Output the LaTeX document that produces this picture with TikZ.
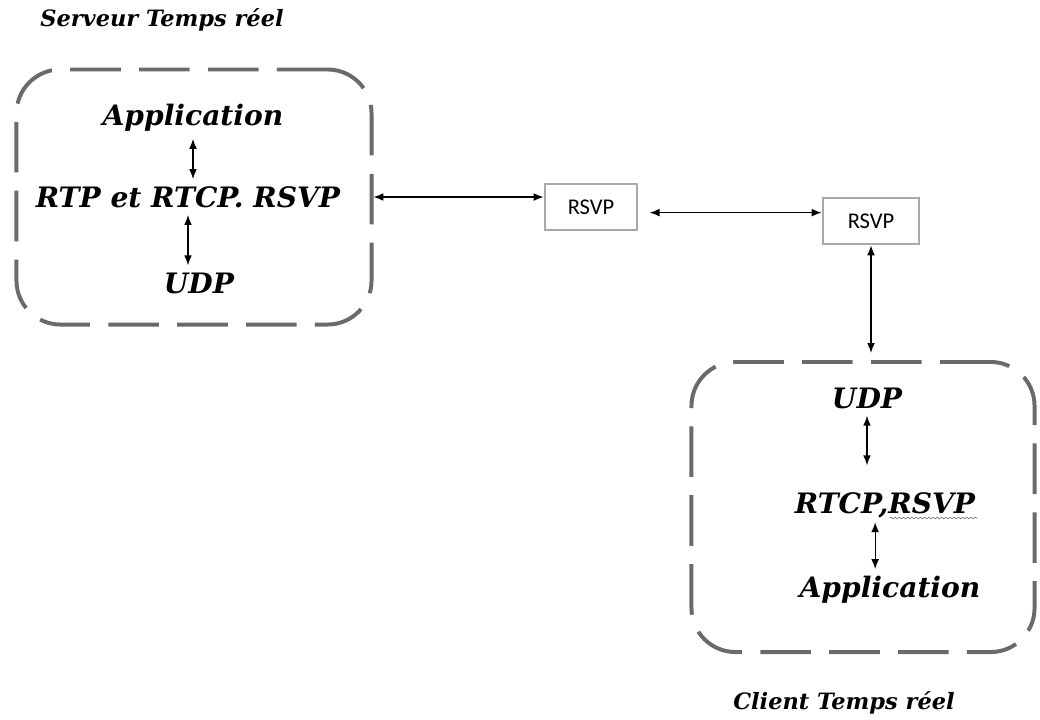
\documentclass[tikz,border=0pt]{standalone}
\usepackage{fontspec}
\newfontfamily\boitefont{Carlito}
\newfontfamily\couchefont{DejaVu Serif}
\usetikzlibrary{arrows.meta,decorations.pathmorphing}
\definecolor{griscadre}{HTML}{6A6A6A}
\definecolor{grisboite}{HTML}{A8A8A8}
\tikzset{
  couche/.style={font=\fontsize{20}{24}\selectfont\couchefont\bfseries\itshape, inner sep=5pt},
  titre/.style={font=\fontsize{16}{19}\selectfont\couchefont\bfseries\itshape},
  cadre/.style={draw=griscadre, line width=2.8pt, rounded corners=1.1cm,
    dash pattern=on 36pt off 13pt, minimum width=#1},
  boite/.style={draw=grisboite, line width=2pt, minimum width=2.3cm, minimum height=1.15cm,
    font=\fontsize{16}{19}\selectfont\boitefont},
  fleche/.style={{Latex[length=7pt,width=5.5pt]}-{Latex[length=7pt,width=5.5pt]}, line width=0.9pt}
}
\begin{document}
\begin{tikzpicture}[x=0.025cm,y=-0.025cm]
      \useasboundingbox (0,0) rectangle (1040,719);

      \node[titre] (t1) at (162,20) {Serveur Temps réel};
      \node[cadre=8.875cm, minimum height=6.375cm] (srv) at (194,197) {};
      \node[couche] (app1) at (193,118) {Application};
      \node[couche] (rtp1) at (188,197) {RTP et RTCP. RSVP};
      \node[couche] (udp1) at (199,283) {UDP};

      \node[boite] (rsvp1) at (591,207) {RSVP};
      \node[boite, minimum width=2.4cm] (rsvp2) at (871,221) {RSVP};

      \node[cadre=8.575cm, minimum height=7.25cm] (cli) at (863,507) {};
      \node[couche] (udp2) at (867,398) {UDP};
      \node[couche] (rtcp2) at (885,505) {RTCP,RSVP};
      \node[couche] (app2) at (890,590) {Application};
      \node[titre] (t2) at (844,703) {Client Temps réel};

      \draw[fleche] (app1.south) -- (app1.south |- rtp1.north);
      \draw[fleche] (rtp1.south) -- (rtp1.south |- udp1.north);
      \draw[fleche, shorten >=14pt] (udp2.south) -- (udp2.south |- rtcp2.north);
      \draw[fleche] ([xshift=-7pt, yshift=2pt]rtcp2.south) -- ([xshift=-7pt]rtcp2.south |- app2.north);
      \draw[griscadre, line width=0.4pt, decorate, decoration={snake, amplitude=0.6pt, segment length=3pt}]
        ([xshift=-66pt, yshift=5pt]rtcp2.south east) -- ([xshift=-3pt, yshift=5pt]rtcp2.south east);

      \draw[fleche] (srv.east) -- (srv.east -| rsvp1.west);
      \draw[fleche] ([xshift=8pt, yshift=-4pt]rsvp1.east) -- ([yshift=-4pt]rsvp1.east -| rsvp2.west);
      \draw[fleche] (rsvp2.south) -- ([yshift=5pt]rsvp2.south |- cli.north);
    \end{tikzpicture}
\end{document}
